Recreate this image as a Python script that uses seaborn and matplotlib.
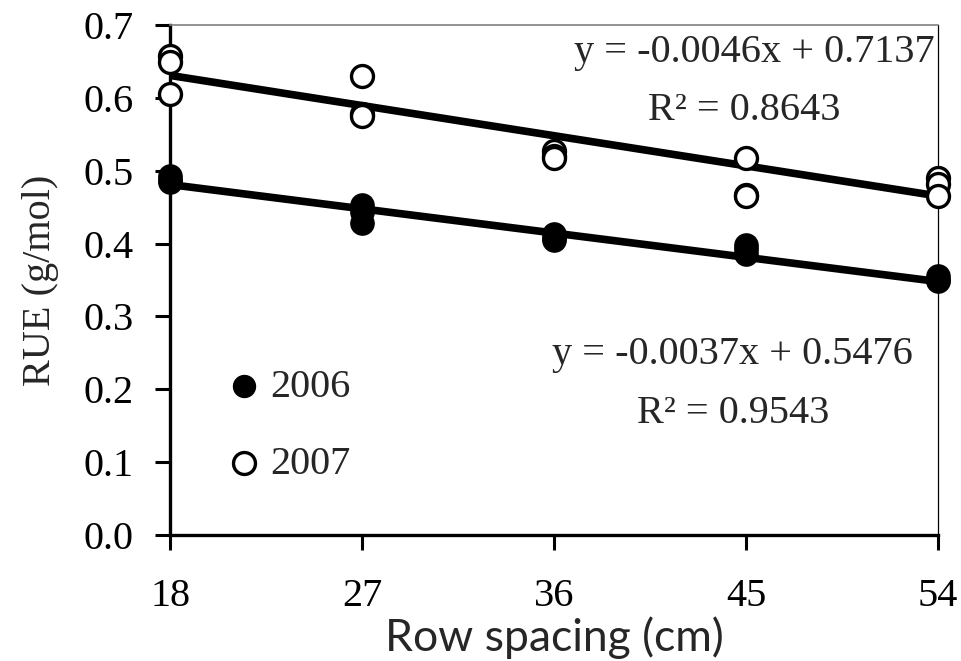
#RUE vs row spacing for two seasons, scatter with the fitted linear trend lines
import numpy as np
import pandas as pd
import matplotlib
matplotlib.use("Agg")
import matplotlib.pyplot as plt
import seaborn as sns

#row spacing levels (cm), three readings per level
spacing = [18, 27, 36, 45, 54]

rue_2006 = [
    [0.493, 0.487, 0.485],
    [0.453, 0.443, 0.428],
    [0.413, 0.408, 0.405],
    [0.398, 0.392, 0.385],
    [0.356, 0.350, 0.348],
]
rue_2007 = [
    [0.658, 0.650, 0.605],
    [0.630, 0.578, 0.575],
    [0.527, 0.520, 0.517],
    [0.518, 0.466, 0.465],
    [0.490, 0.482, 0.465],
]

#trend line coefficients as printed on the chart
fit_2006 = {"slope": -0.0037, "intercept": 0.5476, "r2": 0.9543}
fit_2007 = {"slope": -0.0046, "intercept": 0.7137, "r2": 0.8643}

y_ticks = [0.0, 0.1, 0.2, 0.3, 0.4, 0.5, 0.6, 0.7]

#long format table for seaborn
rows = []
for year, vals in [("2006", rue_2006), ("2007", rue_2007)]:
    for x, reps in zip(spacing, vals):
        for v in reps:
            rows.append({"spacing": x, "rue": v, "year": year})
df = pd.DataFrame(rows)

sns.set_theme(style="white")
serif = ["Liberation Serif", "DejaVu Serif"]
plt.rcParams["font.family"] = serif

fig = plt.figure(figsize=(9.61, 6.61), dpi=100)
ax = fig.add_axes([0.177, 0.191, 0.799, 0.771])

#regression lines drawn from the printed equations
xs = np.array([spacing[0], spacing[-1]])
for fit in [fit_2007, fit_2006]:
    line_df = pd.DataFrame({"spacing": xs, "rue": fit["slope"] * xs + fit["intercept"]})
    sns.lineplot(data=line_df, x="spacing", y="rue", ax=ax, color="black",
                 linewidth=5.5, zorder=2)

sns.scatterplot(data=df[df["year"] == "2006"], x="spacing", y="rue", ax=ax,
                s=280, marker="o", color="black", edgecolor="black",
                linewidth=1, label="2006", zorder=4, clip_on=False)
sns.scatterplot(data=df[df["year"] == "2007"], x="spacing", y="rue", ax=ax,
                s=250, marker="o", facecolor="white", edgecolor="black",
                linewidth=2.4, label="2007", zorder=4, clip_on=False)

ax.set_xlim(spacing[0], spacing[-1])
ax.set_ylim(0, 0.7)
ax.set_xticks(spacing)
ax.set_yticks(y_ticks)
ax.set_yticklabels([f"{t:.1f}" for t in y_ticks])

ax.tick_params(axis="both", which="major", direction="out", length=11,
               width=2.2, color="black", labelsize=29, labelcolor="black",
               left=True, bottom=True)
ax.tick_params(axis="x", pad=20)
ax.tick_params(axis="y", pad=15)

for side in ["left", "bottom"]:
    ax.spines[side].set_color("black")
    ax.spines[side].set_linewidth(2.4)
ax.spines["top"].set_color("#808080")
ax.spines["top"].set_linewidth(1.2)
ax.spines["right"].set_color("black")
ax.spines["right"].set_linewidth(0.9)

ax.set_xlabel("Row spacing (cm)", fontsize=32, family=["Lato", "DejaVu Sans"],
              labelpad=1)
ax.set_ylabel("RUE (g/mol)", fontsize=29, family=serif, labelpad=18)

#equation labels
ax.text(45.4, 0.663, f"y = {fit_2007['slope']}x + {fit_2007['intercept']}",
        fontsize=29, ha="center", va="center")
ax.text(44.9, 0.583, f"R² = {fit_2007['r2']}", fontsize=29, ha="center", va="center")
ax.text(44.35, 0.247, f"y = {fit_2006['slope']}x + {fit_2006['intercept']}",
        fontsize=29, ha="center", va="center")
ax.text(44.4, 0.167, f"R² = {fit_2006['r2']}", fontsize=29, ha="center", va="center")

leg = ax.legend(loc="center left", bbox_to_anchor=(0.044, 0.214), frameon=False,
                fontsize=29, handletextpad=0.15, labelspacing=1.0,
                borderpad=0, handlelength=1.0)
for h in leg.legend_handles:
    h.set_sizes([250])

plt.savefig("out.png", dpi=100)
